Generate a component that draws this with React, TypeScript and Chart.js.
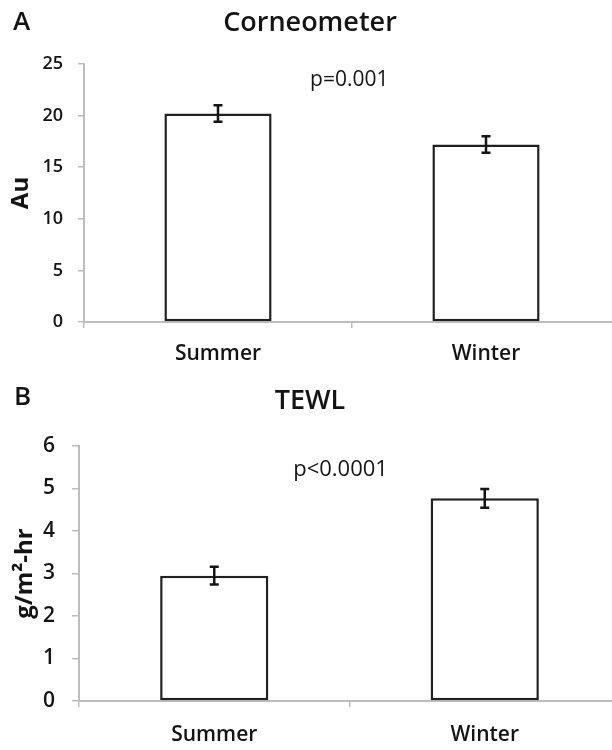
import React, { useEffect, useRef } from "react";
import { Chart, registerables } from "chart.js";

Chart.register(...registerables);

// ---- data ----
const categories = ["Summer", "Winter"];

const corneometerMeans = [20.2, 17.2];
const corneometerErrors = [0.8, 0.8];
const corneometerTicks = { min: 0, max: 25, step: 5 };

const tewlMeans = [2.95, 4.77];
const tewlErrors = [0.21, 0.22];
const tewlTicks = { min: 0, max: 6, step: 1 };

const FONT = "'Open Sans', 'Liberation Sans', sans-serif";
const AXIS_GRAY = "#bdbdbd";
const INK = "#141414";
const WEIGHT = 600;

const errorBarPlugin = {
  id: "errorBars",
  afterDatasetsDraw(chart: any) {
    const ctx = chart.ctx;
    const yScale = chart.scales.y;
    chart.data.datasets.forEach((ds: any, di: number) => {
      const meta = chart.getDatasetMeta(di);
      const errs: number[] = ds.errors || [];
      meta.data.forEach((bar: any, i: number) => {
        const v = ds.data[i];
        const e = errs[i];
        if (e == null) return;
        const x = bar.x;
        const yTop = yScale.getPixelForValue(v + e);
        const yBot = yScale.getPixelForValue(v - e);
        ctx.save();
        ctx.strokeStyle = INK;
        ctx.lineWidth = 2.5;
        ctx.beginPath();
        ctx.moveTo(x, yTop);
        ctx.lineTo(x, yBot);
        ctx.moveTo(x - 4.5, yTop);
        ctx.lineTo(x + 4.5, yTop);
        ctx.moveTo(x - 4.5, yBot);
        ctx.lineTo(x + 4.5, yBot);
        ctx.stroke();
        ctx.restore();
      });
    });
  },
};

const pValuePlugin = {
  id: "pValue",
  afterDraw(chart: any, _args: any, opts: any) {
    if (!opts || !opts.text) return;
    const ctx = chart.ctx;
    const x = chart.scales.x.getPixelForValue(opts.xIndex);
    const y = chart.scales.y.getPixelForValue(opts.yValue);
    ctx.save();
    ctx.font = `500 ${opts.size}px ${FONT}`;
    ctx.fillStyle = INK;
    ctx.textAlign = "center";
    ctx.textBaseline = "middle";
    ctx.fillText(opts.text, x, y);
    ctx.restore();
  },
};

function makeConfig(p: {
  title: string;
  titlePad: { top: number; bottom: number };
  yTitle: string;
  yTitlePad: number;
  means: number[];
  errors: number[];
  ticks: { min: number; max: number; step: number };
  tickSize: number;
  yTickLen: number;
  yTickPad: number;
  axisWidth: number;
  xHeight: number;
  xPad: number;
  xTickLen: number;
  pText: string;
  pX: number;
  pY: number;
  pSize: number;
}) {
  return {
    type: "bar" as const,
    data: {
      labels: categories,
      datasets: [
        {
          data: p.means,
          errors: p.errors,
          backgroundColor: "#ffffff",
          borderColor: "#202020",
          borderWidth: 2.5,
          borderSkipped: false,
          categoryPercentage: 1,
          barPercentage: 0.4,
        },
      ],
    },
    options: {
      responsive: false,
      animation: false,
      devicePixelRatio: 1,
      layout: { padding: { left: 0, right: 0, top: 0, bottom: 0 } },
      plugins: {
        legend: { display: false },
        tooltip: { enabled: false },
        title: {
          display: true,
          text: p.title,
          color: INK,
          font: { family: FONT, size: 27, weight: WEIGHT },
          padding: p.titlePad,
        },
        pValue: { text: p.pText, xIndex: p.pX, yValue: p.pY, size: p.pSize },
      },
      scales: {
        x: {
          offset: true,
          grid: {
            offset: true,
            drawOnChartArea: false,
            drawTicks: true,
            tickLength: p.xTickLen,
            color: AXIS_GRAY,
            lineWidth: 1.5,
          },
          border: { display: true, color: AXIS_GRAY, width: 2 },
          ticks: {
            color: INK,
            padding: p.xPad,
            font: { family: FONT, size: 21, weight: WEIGHT },
          },
          afterFit(scale: any) {
            scale.height = p.xHeight;
          },
        },
        y: {
          min: p.ticks.min,
          max: p.ticks.max,
          grid: {
            drawOnChartArea: false,
            drawTicks: true,
            tickLength: p.yTickLen,
            color: AXIS_GRAY,
            lineWidth: 1.5,
          },
          border: { display: true, color: AXIS_GRAY, width: 2 },
          ticks: {
            stepSize: p.ticks.step,
            color: INK,
            padding: p.yTickPad,
            font: { family: FONT, size: p.tickSize, weight: WEIGHT },
          },
          title: {
            display: true,
            text: p.yTitle,
            color: INK,
            font: { family: FONT, size: 24, weight: "bold" },
            padding: { top: p.yTitlePad, bottom: 0 },
          },
          afterFit(scale: any) {
            scale.width = p.axisWidth;
          },
        },
      },
    },
    plugins: [errorBarPlugin, pValuePlugin],
  };
}

function BarPanel(props: { config: any; width: number; height: number }) {
  const ref = useRef<HTMLCanvasElement | null>(null);
  useEffect(() => {
    if (!ref.current) return;
    const chart = new Chart(ref.current, props.config);
    return () => chart.destroy();
  }, []);
  return (
    <canvas
      ref={ref}
      width={props.width}
      height={props.height}
      style={{ display: "block", width: props.width, height: props.height }}
    />
  );
}

const letterStyle: React.CSSProperties = {
  position: "absolute",
  fontFamily: FONT,
  fontSize: 26,
  fontWeight: 600,
  color: INK,
  lineHeight: "26px",
};

export default function App() {
  const configA = makeConfig({
    title: "Corneometer",
    titlePad: { top: 7, bottom: 24.6 },
    yTitle: "Au",
    yTitlePad: 6.6,
    means: corneometerMeans,
    errors: corneometerErrors,
    ticks: corneometerTicks,
    tickSize: 18,
    yTickLen: 6,
    yTickPad: 15,
    axisWidth: 84,
    xHeight: 48,
    xPad: 13,
    xTickLen: 6,
    pText: "p=0.001",
    pX: 0.49,
    pY: 23.4,
    pSize: 21,
  });
  const configB = makeConfig({
    title: "TEWL",
    titlePad: { top: 14.8, bottom: 28.8 },
    yTitle: "g/m²-hr",
    yTitlePad: 10.6,
    means: tewlMeans,
    errors: tewlErrors,
    ticks: tewlTicks,
    tickSize: 21,
    yTickLen: 7,
    yTickPad: 17,
    axisWidth: 79,
    xHeight: 49,
    xPad: 15,
    xTickLen: 6,
    pText: "p<0.0001",
    pX: 0.467,
    pY: 5.43,
    pSize: 22,
  });

  return (
    <div
      style={{
        position: "absolute",
        left: 0,
        top: 0,
        width: 612,
        height: 750,
        overflow: "hidden",
        background: "#ffffff",
      }}
    >
      <div style={{ position: "absolute", left: 0, top: 0 }}>
        <BarPanel config={configA} width={620} height={370} />
      </div>
      <div style={{ position: "absolute", left: 0, top: 370 }}>
        <BarPanel config={configB} width={620} height={380} />
      </div>
      <div style={{ ...letterStyle, left: 13, top: 7 }}>A</div>
      <div style={{ ...letterStyle, left: 14, top: 382 }}>B</div>
    </div>
  );
}
